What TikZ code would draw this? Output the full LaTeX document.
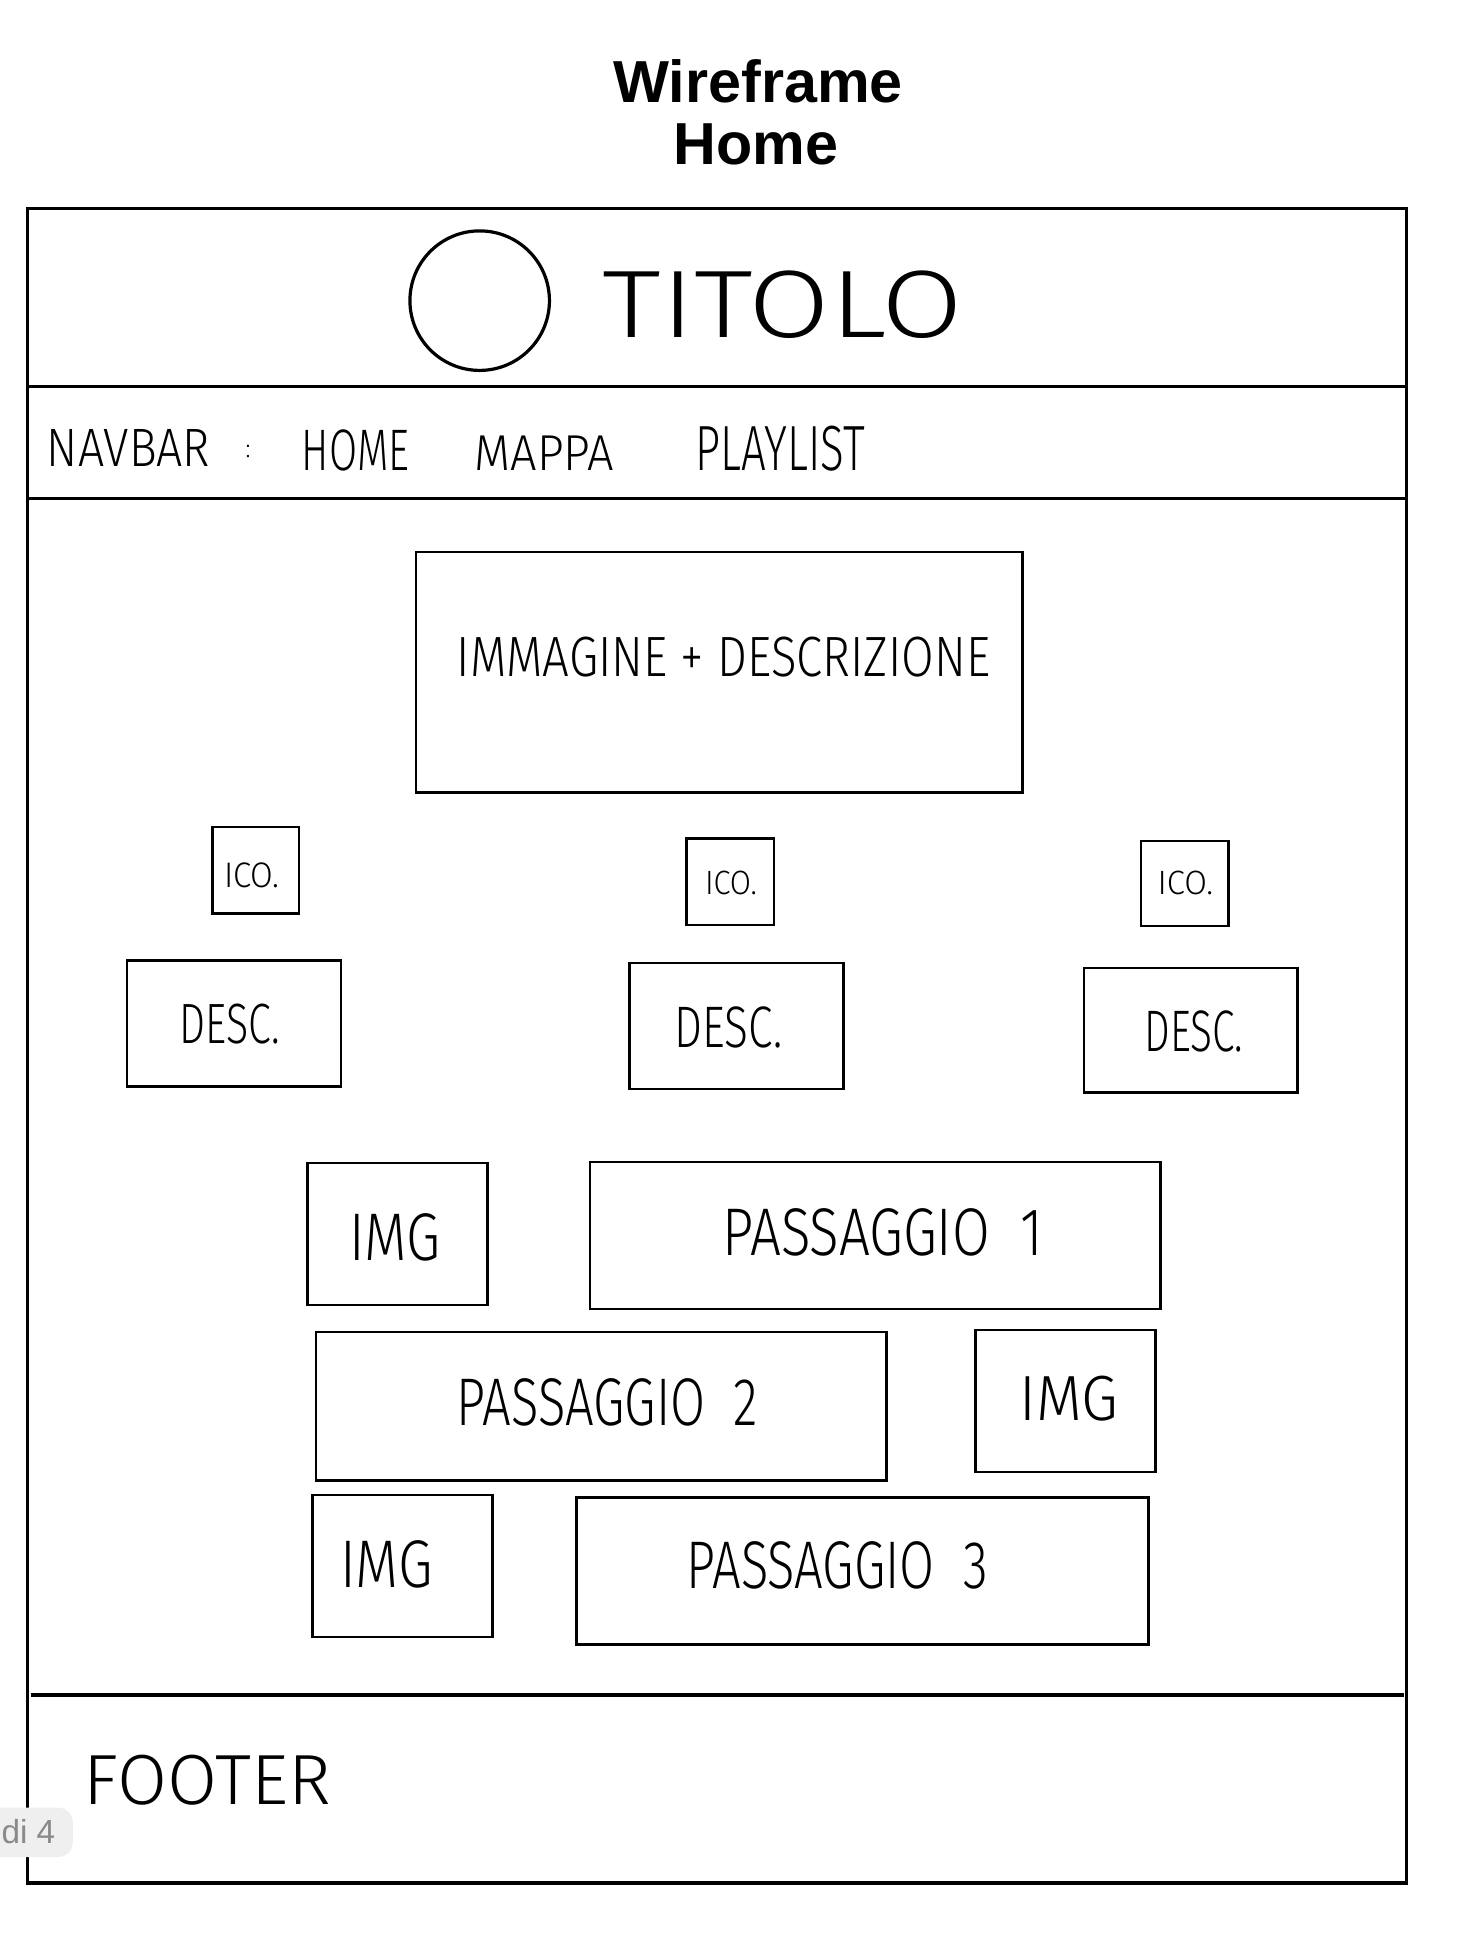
\documentclass[tikz,border=0pt]{standalone}
\usepackage{fontspec}
\usepackage{graphicx}
\setmainfont{Liberation Sans}
\newfontfamily\hwfont{Fira Sans Light}
\newcommand\hw[3]{\resizebox{#1pt}{#2pt}{\hwfont #3}}
\definecolor{badgefill}{HTML}{EFEFEF}
\definecolor{badgetext}{HTML}{8A8A8A}
\begin{document}
\begin{tikzpicture}[x=1pt,y=-1pt,
  wbox/.style={draw=black, line width=2pt, inner sep=0pt, outer sep=0pt},
  frm/.style={draw=black, line width=2.6pt, inner sep=0pt, outer sep=0pt},
  sep/.style={draw=black, line width=2.6pt},
  lbl/.style={inner sep=0pt, outer sep=0pt},
  ttl/.style={inner sep=0pt, anchor=base, font=\bfseries\fontsize{48}{50}\selectfont}]
\useasboundingbox[fill=white] (0,0) rectangle (1181,1568);

% title
\node[ttl] (title1) at (614,83) {Wireframe};
\node[ttl] (title2) at (612,133) {Home};

% page frame
\node[frm, minimum width=1117pt, minimum height=1356pt] (frame) at (580.5,847) {};
\draw[sep] (frame.west |- 0,313) -- (frame.east |- 0,313);
\draw[sep] (frame.west |- 0,404) -- (frame.east |- 0,404);
\draw[draw=black, line width=3.6pt] (25,1373) -- (1137,1373);

% header
\node[draw=black, line width=2.6pt, circle, minimum size=113pt, inner sep=0pt] (logo) at (388.5,243.5) {};
\node[lbl] (titolo) at (634,247) {\hw{292}{54}{TITOLO}};

% navbar
\node[lbl] (navbar) at (104,363) {\hw{132}{30}{NAVBAR}};
\node[lbl] (colon) at (201,366) {\hw{4}{10}{:}};
\node[lbl] (home) at (288,365) {\hw{87}{33}{HOME}};
\node[lbl] (mappa) at (441,367) {\hw{113}{28}{MAPPA}};
\node[lbl] (playlist) at (632,363) {\hw{137}{36}{PLAYLIST}};

% main image
\node[wbox, minimum width=491pt, minimum height=195pt] (main) at (582.5,544.5) {};
\node[lbl] (maintxt) at (586,532) {\hw{432}{32}{IMMAGINE + DESCRIZIONE}};

% icons
\node[wbox, minimum width=70pt, minimum height=70pt] (ico1) at (207,705) {};
\node[wbox, minimum width=71pt, minimum height=70pt] (ico2) at (591.5,714) {};
\node[wbox, minimum width=71pt, minimum height=69pt] (ico3) at (959.5,715.5) {};
\node[lbl] (ico1t) at (204,709) {\hw{45}{20}{ICO.}};
\node[lbl] (ico2t) at (592,715) {\hw{42}{19}{ICO.}};
\node[lbl] (ico3t) at (960,715) {\hw{45}{19}{ICO.}};

% descriptions
\node[wbox, minimum width=173pt, minimum height=102pt] (desc1) at (189.5,829) {};
\node[wbox, minimum width=173pt, minimum height=102pt] (desc2) at (596.5,831) {};
\node[wbox, minimum width=173pt, minimum height=101pt] (desc3) at (964.5,834.5) {};
\node[lbl] (desc1t) at (186,829) {\hw{81}{32}{DESC.}};
\node[lbl] (desc2t) at (590,832) {\hw{87}{33}{DESC.}};
\node[lbl] (desc3t) at (967,835) {\hw{80}{33}{DESC.}};

% passages
\node[wbox, minimum width=146pt, minimum height=115pt] (img1) at (322,999.5) {};
\node[wbox, minimum width=462pt, minimum height=119pt] (pass1) at (709,1000.5) {};
\node[wbox, minimum width=462pt, minimum height=120pt] (pass2) at (487,1139) {};
\node[wbox, minimum width=146pt, minimum height=115pt] (img2) at (863,1134.5) {};
\node[wbox, minimum width=146pt, minimum height=115pt] (img3) at (326,1268.5) {};
\node[wbox, minimum width=463pt, minimum height=119pt] (pass3) at (698.5,1272.5) {};

\node[lbl] (img1t) at (320,1002) {\hw{74}{38}{IMG}};
\node[lbl] (pass1t) at (715,998) {\hw{260}{38}{PASSAGGIO\ \ 1}};
\node[lbl] (pass2t) at (492,1136) {\hw{244}{38}{PASSAGGIO\ \ 2}};
\node[lbl] (img2t) at (866,1133) {\hw{80}{36}{IMG}};
\node[lbl] (img3t) at (313,1267) {\hw{75}{38}{IMG}};
\node[lbl] (pass3t) at (678,1268) {\hw{244}{38}{PASSAGGIO\ \ 3}};

% footer
\node[lbl] (footer) at (168,1442) {\hw{200}{40}{FOOTER}};

% page badge
\node[fill=badgefill, rounded corners=12pt, minimum width=90pt, minimum height=40pt, inner sep=0pt] (badge) at (14,1484) {};
\node[anchor=base east, text=badgetext, inner sep=0pt, font=\fontsize{27}{29}\selectfont] (badget) at (45,1493) {di 4};
\end{tikzpicture}
\end{document}
